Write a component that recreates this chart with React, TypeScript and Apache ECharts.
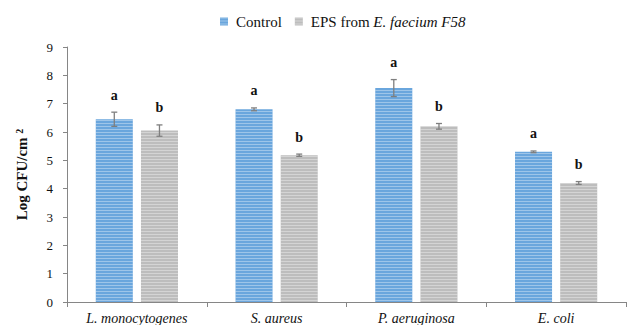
import React, { useEffect, useRef } from "react";
import * as echarts from "echarts";

const categories = ["L. monocytogenes", "S. aureus", "P. aeruginosa", "E. coli"];
const controlValues = [6.45, 6.8, 7.55, 5.3];
const controlErrors = [0.25, 0.05, 0.3, 0.03];
const epsValues = [6.05, 5.18, 6.2, 4.2];
const epsErrors = [0.2, 0.04, 0.1, 0.05];
const controlLetters = ["a", "a", "a", "a"];
const epsLetters = ["b", "b", "b", "b"];
const yTicks = [0, 1, 2, 3, 4, 5, 6, 7, 8, 9];

const BAR_W = 0.265;
const GAP = 0.22;
const FONT = "Liberation Serif";

function errorSeries(values: number[], errors: number[], letters: string[], side: number) {
  return {
    type: "custom",
    silent: true,
    z: 10,
    data: values.map((v, i) => [i, v, errors[i]]),
    renderItem: (params: any, api: any) => {
      const i = api.value(0);
      const v = api.value(1);
      const e = api.value(2);
      const band = api.size([1, 0])[0];
      const off = side * (BAR_W + BAR_W * GAP) / 2 * band;
      const c = api.coord([i, v]);
      const x = c[0] + off;
      const yHi = api.coord([i, v + e])[1];
      const yLo = api.coord([i, v - e])[1];
      const cap = 3;
      const st = { stroke: "#7f7f7f", lineWidth: 1.3 };
      return {
        type: "group",
        children: [
          { type: "line", shape: { x1: x, y1: yHi, x2: x, y2: yLo }, style: st },
          { type: "line", shape: { x1: x - cap, y1: yHi, x2: x + cap, y2: yHi }, style: st },
          { type: "line", shape: { x1: x - cap, y1: yLo, x2: x + cap, y2: yLo }, style: st },
          {
            type: "text",
            style: {
              text: letters[i],
              x: x,
              y: yHi - 10,
              align: "center",
              verticalAlign: "bottom",
              font: "bold 14px 'Liberation Serif', serif",
              fill: "#111",
            },
          },
        ],
      };
    },
  };
}

export default function App() {
  const ref = useRef<HTMLDivElement>(null);
  useEffect(() => {
    const chart = echarts.init(ref.current!, null, { renderer: "svg" });
    const decal = {
      symbol: "rect",
      dashArrayX: [1, 0],
      dashArrayY: [1, 2],
      symbolSize: 1,
      rotation: 0,
      color: "rgba(255,255,255,0.35)",
    };
    chart.setOption({
      animation: false,
      textStyle: { fontFamily: FONT },
      legend: {
        top: 9,
        left: 215,
        itemWidth: 8,
        itemHeight: 8,
        itemGap: 13,
        icon: "rect",
        textStyle: {
          fontFamily: FONT,
          fontSize: 15,
          color: "#111",
          rich: {
            i: { fontStyle: "italic", fontFamily: FONT, fontSize: 15, color: "#111" },
            n: { fontFamily: FONT, fontSize: 15, color: "#111", padding: [0, 0, 0, 3] },
          },
        },
        formatter: (name: string) =>
          name === "Control" ? "{n|Control}" : "{n|EPS from }{i|E. faecium F58}",
        data: ["Control", "EPS from E. faecium F58"],
      },
      grid: { left: 67, right: 2, top: 47, bottom: 23 },
      xAxis: {
        type: "category",
        data: categories,
        axisLine: { lineStyle: { color: "#868686", width: 1 } },
        axisTick: { show: true, length: 5, lineStyle: { color: "#868686" } },
        axisLabel: {
          fontFamily: FONT,
          fontStyle: "italic",
          fontSize: 14,
          color: "#111",
          margin: 9,
        },
      },
      yAxis: {
        type: "value",
        min: yTicks[0],
        max: yTicks[yTicks.length - 1],
        interval: 1,
        name: "{a|Log CFU/cm} {b|2}",
        nameLocation: "middle",
        nameGap: 38,
        nameTextStyle: {
          fontFamily: FONT,
          fontWeight: "bold",
          fontSize: 15,
          color: "#111",
          rich: {
            a: { fontFamily: FONT, fontWeight: "bold", fontSize: 15, color: "#111" },
            b: { fontFamily: FONT, fontWeight: "bold", fontSize: 10, color: "#111", verticalAlign: "top" },
          },
        },
        axisLine: { show: true, lineStyle: { color: "#868686", width: 1 } },
        axisTick: { show: true, length: 4, lineStyle: { color: "#868686" } },
        splitLine: { show: false },
        axisLabel: { fontFamily: FONT, fontSize: 13, color: "#111", margin: 14 },
      },
      series: [
        {
          name: "Control",
          type: "bar",
          data: controlValues,
          barWidth: BAR_W * 100 + "%",
          barGap: GAP * 100 + "%",
          itemStyle: { color: "#6aa6dd", decal },
        },
        {
          name: "EPS from E. faecium F58",
          type: "bar",
          data: epsValues,
          barWidth: BAR_W * 100 + "%",
          barGap: GAP * 100 + "%",
          itemStyle: { color: "#bdbdbd", decal },
        },
        errorSeries(controlValues, controlErrors, controlLetters, -1),
        errorSeries(epsValues, epsErrors, epsLetters, 1),
      ],
    });
    return () => chart.dispose();
  }, []);
  return (
    <div
      ref={ref}
      style={{ position: "absolute", left: 0, top: 0, width: 628, height: 325 }}
    />
  );
}
